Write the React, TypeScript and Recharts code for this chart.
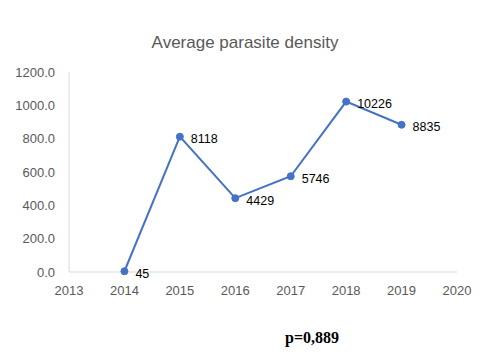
import { LineChart, Line, XAxis, YAxis, LabelList } from "recharts";

const years = [2014, 2015, 2016, 2017, 2018, 2019];
const density = [4.5, 811.8, 442.9, 574.6, 1022.6, 883.5];
const pointLabels = ["45", "8118", "4429", "5746", "10226", "8835"];
const xTicks = [2013, 2014, 2015, 2016, 2017, 2018, 2019, 2020];
const yTicks = [0, 200, 400, 600, 800, 1000, 1200];

const data = years.map((year, i) => ({
  year,
  density: density[i],
  label: pointLabels[i],
}));

const font = "'Liberation Sans', Arial, sans-serif";

export default function App() {
  return (
    <div
      style={{
        position: "absolute",
        left: 0,
        top: 0,
        width: 490,
        height: 357,
        background: "#fff",
        fontFamily: font,
      }}
    >
      <div
        style={{
          position: "absolute",
          left: 0,
          width: 490,
          top: 33,
          textAlign: "center",
          fontSize: 17,
          color: "#595959",
        }}
      >
        Average parasite density
      </div>
      <LineChart
        width={490}
        height={357}
        data={data}
        margin={{ top: 72, right: 33, bottom: 55, left: 0 }}
      >
        <XAxis
          dataKey="year"
          type="number"
          domain={[2013, 2020]}
          ticks={xTicks}
          tickLine={false}
          tickMargin={8}
          height={30}
          stroke="#d9d9d9"
          tick={{ fill: "#595959", fontSize: 13, fontFamily: font }}
        />
        <YAxis
          domain={[0, 1200]}
          ticks={yTicks}
          width={69}
          tickLine={false}
          tickMargin={8}
          stroke="#d9d9d9"
          tickFormatter={(v: number) => v.toFixed(1)}
          tick={{ fill: "#595959", fontSize: 13, fontFamily: font }}
        />
        <Line
          type="linear"
          dataKey="density"
          stroke="#4472c4"
          strokeWidth={2}
          dot={{ r: 3.5, fill: "#4472c4", stroke: "#4472c4", strokeWidth: 1 }}
          isAnimationActive={false}
        >
          <LabelList
            dataKey="label"
            position="right"
            offset={11}
            dy={2}
            fill="#000"
            fontSize={12.5}
            fontFamily={font}
          />
        </Line>
      </LineChart>
      <div
        style={{
          position: "absolute",
          left: 285,
          top: 329,
          fontFamily: "'Liberation Serif', 'Times New Roman', serif",
          fontWeight: "bold",
          fontSize: 16,
          color: "#000",
        }}
      >
        p=0,889
      </div>
    </div>
  );
}
